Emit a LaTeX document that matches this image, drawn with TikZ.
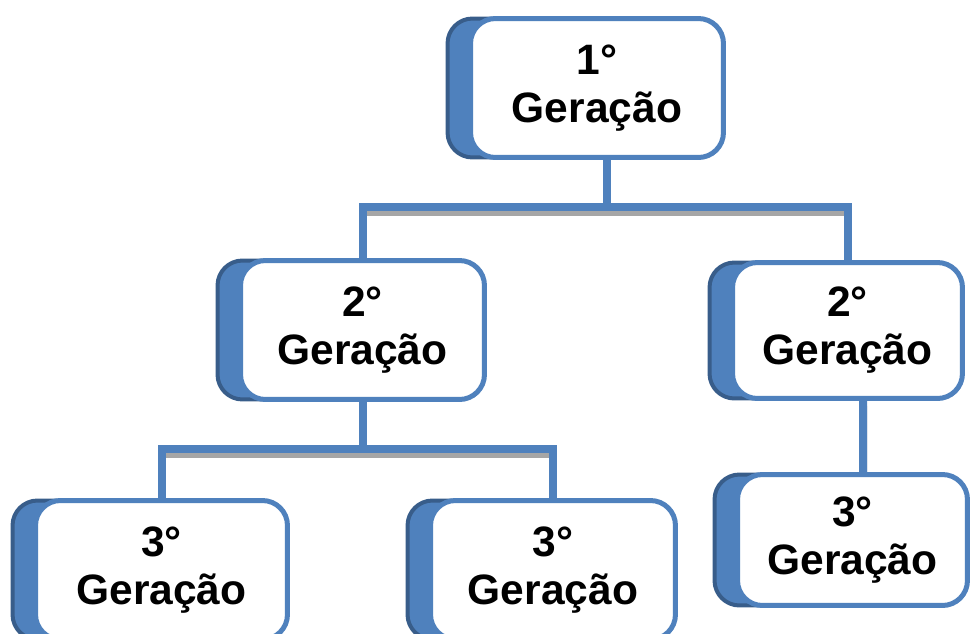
\documentclass[tikz,border=0pt]{standalone}
\usepackage{fontspec}
\setmainfont{Liberation Sans}
\usetikzlibrary{shadows}
\usetikzlibrary{backgrounds}
\definecolor{boxblue}{HTML}{4F81BD}
\definecolor{boxdark}{HTML}{385D8A}
\definecolor{tiegray}{HTML}{A6A6A6}
\begin{document}
\begin{tikzpicture}[
			x=0.02cm, y=-0.02cm,
			gen/.style={
				draw=boxblue,
				fill=white,
				line width=0.1cm,
				rounded corners=0.5cm,
				align=center,
				inner sep=0pt,
				font=\fontsize{24.2}{27.3}\selectfont\bfseries,
				general shadow={shadow xshift=-0.46cm, fill=boxblue, draw=boxdark, line width=0.08cm},
			},
			tie/.style={
				draw=boxblue,
				line width=0.16cm,
				preaction={draw=tiegray, line width=0.16cm, transform canvas={yshift=-0.1cm}},
			},
			]
			\useasboundingbox (0,0) rectangle (971,633);
			%% generations
			\node [gen, minimum width=5.06cm, minimum height=2.78cm] (n1) at (597,88) {1°\\Geração};
			\node [gen, minimum width=4.88cm, minimum height=2.78cm] (n2l) at (362.5,330) {2°\\Geração};
			\node [gen, minimum width=4.6cm, minimum height=2.72cm] (n2r) at (847.5,330.5) {2°\\Geração};
			\node [gen, minimum width=5.04cm, minimum height=2.78cm] (n3a) at (161.5,570) {3°\\Geração};
			\node [gen, minimum width=4.9cm, minimum height=2.78cm] (n3b) at (553,570) {3°\\Geração};
			\node [gen, minimum width=4.6cm, minimum height=2.62cm] (n3r) at (852.5,540) {3°\\Geração};
			%% Path for ties
			\begin{scope}[on background layer]
				\path ([xshift=0.2cm, yshift=-0.95cm]n1.south) coordinate (j1);
				\path ([yshift=-0.94cm]n2l.south) coordinate (j2);
				\draw [tie] ([xshift=0.2cm]n1.south) -- (j1);
				\draw [tie] (n2l.north) |- (j1) -| (n2r.north);
				\draw [tie] (n2l.south) -- (j2);
				\draw [tie] (n3a.north) |- (j2) -| (n3b.north);
				\draw [tie] ([xshift=0.31cm]n2r.south) -- ([xshift=0.21cm]n3r.north);
			\end{scope}
		\end{tikzpicture}
\end{document}
